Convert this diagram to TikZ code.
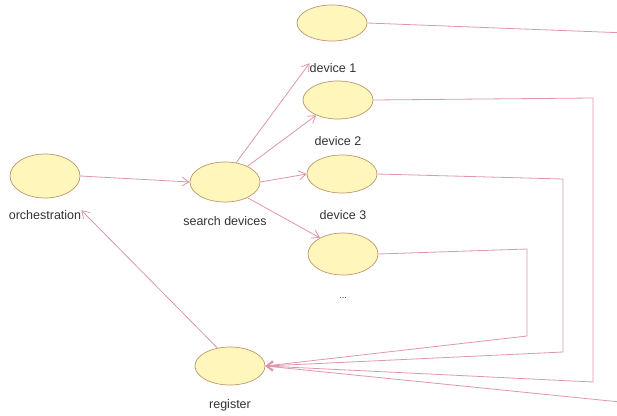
\documentclass[tikz,border=0pt]{standalone}
\usepackage{fontspec}
\setmainfont{Liberation Sans}
\usetikzlibrary{arrows.meta,shapes.geometric}
\definecolor{linkpink}{RGB}{222,150,170}
\definecolor{casefill}{RGB}{255,246,188}
\definecolor{caseline}{RGB}{190,150,110}
\tikzset{
  usecase/.style={ellipse, draw=caseline, fill=casefill, line width=0.7pt,
    minimum width=70pt, minimum height=38pt, inner sep=0pt},
  caselabel/.style={text=black!80, inner sep=0pt},
  link/.style={draw=linkpink, line width=0.8pt, ->}
}
\begin{document}
\begin{tikzpicture}[x=1pt, y=-1pt, font=\fontsize{12.5}{14}\selectfont, line join=round,
  >={Straight Barb[length=7pt,width=9pt]}]
	\useasboundingbox (0,0) rectangle (617,415);
	\clip (0,0) rectangle (617,415);
	% use cases
	\node[usecase, minimum height=44pt] (orch) at (45,176) {};
	\node[usecase, minimum height=40pt] (search) at (225,182) {};
	\node[usecase, minimum height=36pt] (dev1) at (332,23) {};
	\node[usecase] (dev2) at (338,100) {};
	\node[usecase] (dev3) at (342,174) {};
	\node[usecase, minimum height=42pt] (dev4) at (343,254) {};
	\node[usecase, minimum height=38pt] (reg) at (230,366) {};
	% labels
	\node[caselabel] (lorch) at (45,215) {orchestration};
	\node[caselabel] (lsearch) at (225,221) {search devices};
	\node[caselabel] (ldev1) at (333,68) {device 1};
	\node[caselabel] (ldev2) at (338,141) {device 2};
	\node[caselabel] (ldev3) at (343,215) {device 3};
	\node[caselabel, font=\fontsize{9}{10}\selectfont] (ldots) at (343,298) {...};
	\node[caselabel] (lreg) at (230,405) {register};
	% connectors
	\draw[link] (orch.east) -- (search.west);
	\draw[link] (search.60) -- (ldev1.north west);
	\draw[link] (search.35) -- (dev2.215);
	\draw[link] (search.east) -- (dev3.west);
	\draw[link] (search.-35) -- (dev4.145);
	\draw[link] (reg.125) -- (lorch.north east);
	\draw[link] (dev1.east) -- (640,33.5) -- (640,404) -- (reg.east);
	\draw[link] (dev2.east) -- (593,98) -- (593,382) -- (reg.east);
	\draw[link] (dev3.east) -- (563,179) -- (563,352) -- (reg.east);
	\draw[link] (dev4.east) -- (527,249) -- (527,336) -- (reg.east);
\end{tikzpicture}
\end{document}
